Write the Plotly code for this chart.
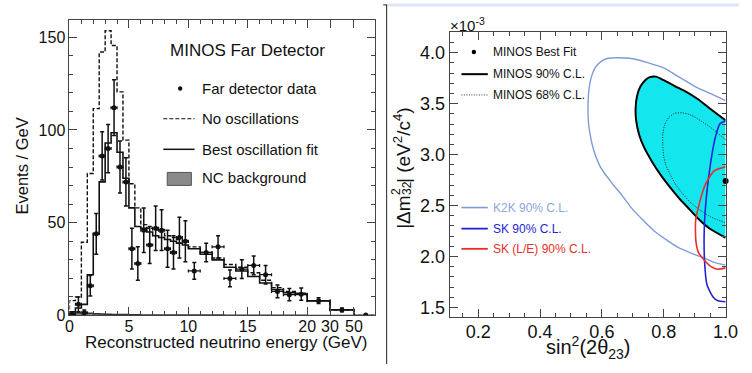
import numpy as np
import plotly.graph_objects as go

W, H = 752, 373

# ---------------- Left panel: MINOS Far Detector spectrum ----------------
energy_edges = [0, 0.5, 1, 1.5, 2, 2.5, 3, 3.5, 4, 4.5, 5, 5.5, 6, 6.5, 7, 7.5, 8, 8.5, 9, 9.5, 10,
                11, 12, 13, 14, 15, 16, 17, 18, 19, 20, 30, 50, 100]
no_osc = [8, 10, 39.5, 76.5, 111.5, 142, 153.5, 145.5, 120.5, 94.5,
          71, 58, 49, 47, 46, 45, 43, 42, 41, 40,
          37, 34, 31, 27.5, 26, 23, 19, 15, 13, 12,
          8, 3, 0]
best_fit = [2, 4, 6, 22, 44, 72, 93, 98.5, 88, 74,
            58, 48, 47, 45, 43, 42, 41, 40, 39, 38,
            36, 33, 30, 26, 24, 21, 17.5, 14, 12.3, 11.4,
            7.9, 3.1, 0]
nc_bkg = [1, 1.5, 1.5, 1.2, 1, 0.8, 0.7, 0.6, 0.5, 0.5,
          0.4, 0.4, 0.3, 0.3, 0.3, 0.3, 0.3, 0.2, 0.2, 0.2,
          0.2, 0.2, 0.2, 0.1, 0.1, 0.1, 0.1, 0.1, 0.1, 0.1,
          0.05, 0.02, 0]
data_vals = [0.5, 6, 1.5, 16, 44, 86, 90, 112, 80, 72,
             36, 28, 46, 38, 47, 46, 36, 34, 42, 40,
             24, 34, 37, 20, 25, 27, 22, 13, 11.2, 11.5,
             8, 3, 0.3]
data_err = [1, 4, 1.5, 5.5, 11, 13, 13, 15, 14, 13,
            11, 9, 12, 10, 12, 11, 10, 9, 11, 11,
            4.5, 5, 6, 4.5, 5, 5, 5, 3.5, 3.3, 3.3,
            1.5, 1, 0]
tick_energies = [0, 5, 10, 15, 20, 30, 50]
tick_labels = ["0", "5", "10", "15", "20", "30", "50"]

# axis with compressed high-energy part (linear to 20 GeV, then variable-width bins)
break_energy = [0, 20, 30, 50, 100]
break_pos = [0, 20, 21.92, 23.93, 25.93]


def axis_pos(e):
    return np.interp(np.asarray(e, dtype=float), break_energy, break_pos)


# ---------------- Right panel: allowed regions ----------------
k2k_s = [1.0, 0.95, 0.90, 0.85, 0.80, 0.75, 0.70, 0.65, 0.62, 0.60, 0.58, 0.565, 0.557, 0.555, 0.557,
         0.565, 0.575, 0.595, 0.63, 0.665, 0.696, 0.735, 0.769, 0.81, 0.845, 0.89, 0.921, 0.96, 1.0]
k2k_dm = [3.53, 3.60, 3.67, 3.76, 3.85, 3.90, 3.94, 3.95, 3.945, 3.92, 3.86, 3.75, 3.60, 3.45, 3.30,
          3.15, 3.03, 2.88, 2.73, 2.60, 2.474, 2.35, 2.25, 2.16, 2.091, 2.03, 1.995, 1.945, 1.915]

m90_s = [1.0, 0.95, 0.911, 0.87, 0.837, 0.80, 0.775, 0.755, 0.74, 0.725, 0.714, 0.709, 0.711,
         0.72, 0.735, 0.764, 0.79, 0.82, 0.85, 0.885, 0.915, 0.948, 1.0]
m90_dm = [3.336, 3.45, 3.543, 3.62, 3.67, 3.73, 3.765, 3.76, 3.73, 3.67, 3.58, 3.45, 3.33,
          3.20, 3.08, 2.92, 2.80, 2.68, 2.57, 2.457, 2.36, 2.274, 2.183]

m68_s = [1.0, 0.95, 0.92, 0.89, 0.86, 0.835, 0.815, 0.803, 0.797, 0.797,
         0.80, 0.806, 0.82, 0.837, 0.86, 0.89, 0.92, 0.953, 1.0]
m68_dm = [3.145, 3.27, 3.33, 3.385, 3.41, 3.405, 3.36, 3.29, 3.20, 3.10,
          2.98, 2.905, 2.81, 2.713, 2.62, 2.52, 2.45, 2.386, 2.33]

sk_s = [1.0, 0.982, 0.966, 0.951, 0.938, 0.931, 0.932, 0.94, 0.96, 0.975, 1.0]
sk_dm = [3.33, 3.304, 3.16, 2.905, 2.59, 2.27, 1.95, 1.72, 1.60, 1.565, 1.555]

skle_s = [1.0, 0.963, 0.935, 0.915, 0.903, 0.904, 0.912, 0.925, 0.953, 0.975, 1.0]
skle_dm = [2.88, 2.84, 2.71, 2.52, 2.346, 2.15, 2.04, 1.985, 1.90, 1.874, 1.888]

best_s = [1.0]
best_dm = [2.74]

FONT = "Liberation Sans, Arial, sans-serif"
INK = "#111111"
FRAME = "#444444"
CYAN = "#14e6ee"
K2K_C = "#7f9ad8"
SK_C = "#2424d6"
SKLE_C = "#e6302a"


def px(x):
    return x / W


def py(y):
    return 1 - y / H


fig = go.Figure()

# ---- left histograms ----
ex = axis_pos(energy_edges)


def step_xy(vals):
    xs = [ex[0]] + list(ex[:-1]) + [ex[-1]]
    ys = [0] + list(vals) + [vals[-1]]
    return xs, ys


xs, ys = step_xy(nc_bkg)
fig.add_trace(go.Scatter(x=xs, y=ys, mode="lines", line=dict(shape="hv", color="#333", width=1.5),
                         fill="tozeroy", fillcolor="#888888", xaxis="x", yaxis="y", showlegend=False))
xs, ys = step_xy(no_osc)
fig.add_trace(go.Scatter(x=xs, y=ys, mode="lines", line=dict(shape="hv", color=INK, width=1.4, dash="4px,2px"),
                         xaxis="x", yaxis="y", showlegend=False))
xs, ys = step_xy(best_fit)
fig.add_trace(go.Scatter(x=xs, y=ys, mode="lines", line=dict(shape="hv", color=INK, width=1.6),
                         xaxis="x", yaxis="y", showlegend=False))

centers = (ex[:-1] + ex[1:]) / 2
half_w = (ex[1:] - ex[:-1]) / 2
half_w[-1] = 0  # overflow point: no horizontal bar
fig.add_trace(go.Scatter(x=centers, y=data_vals, mode="markers",
                         marker=dict(color=INK, size=5),
                         error_y=dict(type="data", array=data_err, color=INK, thickness=1.5, width=2),
                         error_x=dict(type="data", array=half_w, color=INK, thickness=1.2, width=1.5),
                         xaxis="x", yaxis="y", showlegend=False))

# ---- right contours ----
SM = 0.6
fig.add_trace(go.Scatter(x=m90_s, y=m90_dm, mode="lines", fill="toself", fillcolor=CYAN,
                         line=dict(width=0, shape="spline", smoothing=SM), xaxis="x2", yaxis="y2",
                         showlegend=False, hoverinfo="skip"))
fig.add_trace(go.Scatter(x=k2k_s, y=k2k_dm, mode="lines", line=dict(color=K2K_C, width=1.4, shape="spline", smoothing=SM),
                         xaxis="x2", yaxis="y2", showlegend=False))
fig.add_trace(go.Scatter(x=m90_s, y=m90_dm, mode="lines", line=dict(color="#000", width=2, shape="spline", smoothing=SM),
                         xaxis="x2", yaxis="y2", showlegend=False))
fig.add_trace(go.Scatter(x=m68_s, y=m68_dm, mode="lines", line=dict(color="#222", width=1, dash="1px,1.5px", shape="spline", smoothing=SM),
                         xaxis="x2", yaxis="y2", showlegend=False))
fig.add_trace(go.Scatter(x=sk_s, y=sk_dm, mode="lines", line=dict(color=SK_C, width=1.6, shape="spline", smoothing=SM),
                         xaxis="x2", yaxis="y2", showlegend=False))
fig.add_trace(go.Scatter(x=skle_s, y=skle_dm, mode="lines", line=dict(color=SKLE_C, width=1.6, shape="spline", smoothing=SM),
                         xaxis="x2", yaxis="y2", showlegend=False))
fig.add_trace(go.Scatter(x=best_s, y=best_dm, mode="markers", marker=dict(color="#000", size=6),
                         xaxis="x2", yaxis="y2", showlegend=False, cliponaxis=False))

axis_common = dict(showline=True, linecolor=FRAME, linewidth=1, mirror="ticks", ticks="inside",
                   tickcolor=FRAME, showgrid=False, zeroline=False,
                   tickfont=dict(family=FONT, color=INK))

fig.update_layout(
    width=W, height=H, margin=dict(l=0, r=0, t=0, b=0),
    paper_bgcolor="white", plot_bgcolor="white",
    xaxis=dict(domain=[px(67), px(380)], range=[0, 25.74], anchor="y",
               tickmode="array", tickvals=list(axis_pos(tick_energies)), ticktext=tick_labels,
               ticklen=8, tickfont_size=16, ticklabelstandoff=-4,
               minor=dict(tickmode="array", tickvals=[v for v in range(1, 20) if v % 5], ticklen=4,
                          tickcolor=FRAME, ticks="inside"),
               **axis_common),
    yaxis=dict(domain=[py(323.3), py(21)], range=[0, 159], anchor="x",
               tickvals=[0, 50, 100, 150], ticklen=8, tickfont_size=16,
               minor=dict(dtick=10, ticklen=4, tickcolor=FRAME, ticks="inside"),
               **axis_common),
    xaxis2=dict(domain=[px(456), px(738.3)], range=[0.108, 1.0], anchor="y2",
                tickvals=[0.2, 0.4, 0.6, 0.8, 1.0], ticktext=["0.2", "0.4", "0.6", "0.8", "1.0"],
                ticklen=8, tickfont_size=18, ticklabelstandoff=-2,
                minor=dict(dtick=0.05, tick0=0, ticklen=4, tickcolor=FRAME, ticks="inside"),
                **axis_common),
    yaxis2=dict(domain=[py(325), py(32.7)], range=[1.404, 4.204], anchor="x2",
                tickvals=[1.5, 2.0, 2.5, 3.0, 3.5, 4.0], ticktext=["1.5", "2.0", "2.5", "3.0", "3.5", "4.0"],
                ticklen=8, tickfont_size=18,
                minor=dict(dtick=0.1, tick0=0, ticklen=4, tickcolor=FRAME, ticks="inside"),
                **axis_common),
)

ann = []


def text(x, y, s, size, color=INK, xanchor="left", angle=0, yanchor="middle"):
    ann.append(dict(x=px(x), y=py(y), xref="paper", yref="paper", text=s, showarrow=False,
                    xanchor=xanchor, yanchor=yanchor, textangle=angle, borderpad=0,
                    font=dict(family=FONT, size=size, color=color)))


# left panel texts
text(249, 52, "MINOS Far Detector", 17, xanchor="center")
text(201.7, 90.7, "Far detector data", 15)
text(201.7, 121.7, "No oscillations", 15)
text(201.7, 153, "Best oscillation fit", 15)
text(201.7, 181.7, "NC background", 15)
text(18, 170, "Events / GeV", 16.5, xanchor="center", angle=-90)
text(228, 351, "Reconstructed neutrino energy (GeV)", 17, xanchor="center")

# right panel texts
text(455, 25, "×10<sup>-3</sup>", 15)
text(499.3, 53.3, "MINOS Best Fit", 12)
text(499.3, 76, "MINOS 90% C.L.", 12)
text(499.3, 97.3, "MINOS 68% C.L.", 12)
text(499.3, 212.7, "K2K 90% C.L.", 12, color="#8ea6dc")
text(499.3, 234.3, "SK 90% C.L.", 12, color=SK_C)
text(499.3, 255, "SK (L/E) 90% C.L.", 12, color=SKLE_C)

# rotated y title with stacked super/subscript (ROOT style), built from pieces
YT_X = 408
text(YT_X, 217.3, "|Δm", 19, xanchor="center", angle=-90)
text(YT_X - 6.5, 196.2, "2", 12, xanchor="center", angle=-90)
text(YT_X + 5, 192.9, "32", 12, xanchor="center", angle=-90)
text(YT_X - 1.5, 148.3, "| (eV<sup>2</sup>/c<sup>4</sup>)", 19, xanchor="center", angle=-90)

text(598, 356, "sin<sup>2</sup>(2θ<sub>23</sub>)", 20, xanchor="center")

fig.update_layout(annotations=ann)

shapes = []


def seg(x0, y0, x1, y1, color=INK, width=1.5, dash="solid"):
    shapes.append(dict(type="line", xref="paper", yref="paper", x0=px(x0), y0=py(y0), x1=px(x1), y1=py(y1),
                       line=dict(color=color, width=width, dash=dash)))


# left legend symbols
shapes.append(dict(type="circle", xref="paper", yref="paper", x0=px(178), x1=px(182.5), y0=py(93), y1=py(88.5),
                   fillcolor=INK, line=dict(width=0)))
seg(163, 121.7, 195, 121.7, dash="4px,2px", width=1.2)
seg(163, 153, 195, 153, width=1.5)
shapes.append(dict(type="rect", xref="paper", yref="paper", x0=px(167), x1=px(191.7), y0=py(190), y1=py(176.7),
                   fillcolor="#8a8a8a", line=dict(color="#555", width=1)))
# right legend symbols
shapes.append(dict(type="circle", xref="paper", yref="paper", x0=px(478.5), x1=px(483), y0=py(55.5), y1=py(51),
                   fillcolor="#000", line=dict(width=0)))
seg(468, 76, 495, 76, color="#000", width=2)
seg(468, 97.3, 495, 97.3, color="#333", width=1, dash="1px,1.5px")
seg(468, 212.7, 495, 212.7, color=K2K_C, width=1.6)
seg(468, 234.3, 495, 234.3, color=SK_C, width=1.8)
seg(468, 255, 495, 255, color=SKLE_C, width=1.8)
# page decorations: separator and header strip
seg(391.5, 5, 391.5, 373, color="#222", width=1)
seg(388, 5, 392, 5, color="#222", width=1)
seg(393, 5, 752, 5, color="#dde6f6", width=3)

fig.update_layout(shapes=shapes)

fig.write_html("out.html")
